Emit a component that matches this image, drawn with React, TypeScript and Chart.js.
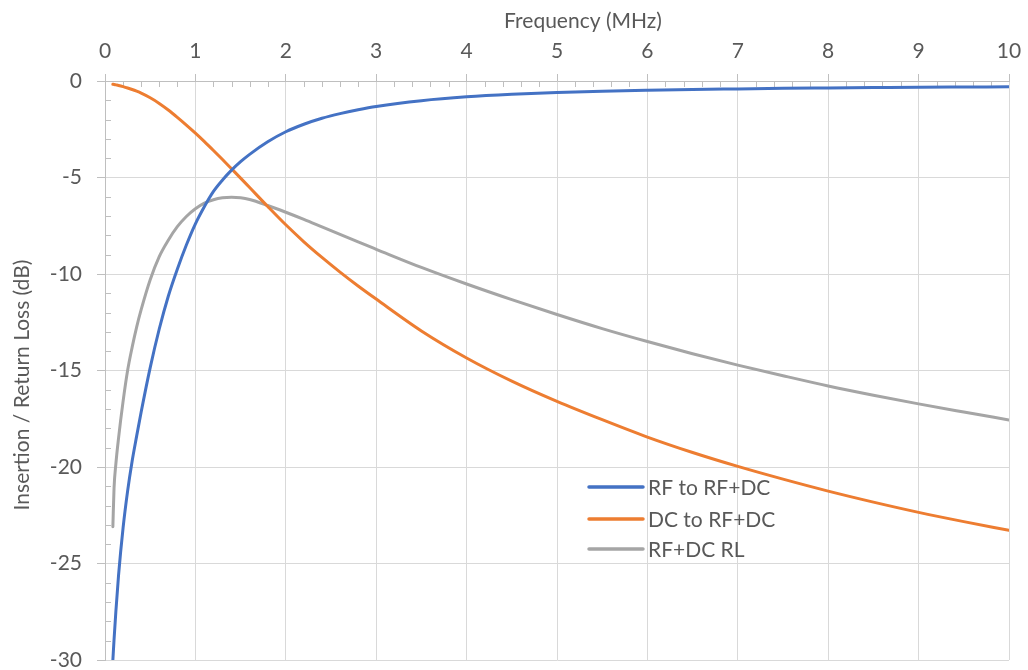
import React, { useEffect, useRef } from "react";
import { Chart, registerables } from "chart.js";

Chart.register(...registerables);

// ---- data ----
const FREQ_MHZ = [
  0.087, 0.1, 0.12, 0.15, 0.2, 0.25, 0.3, 0.35, 0.4, 0.5, 0.6, 0.7, 0.8, 0.9,
  1.0, 1.1, 1.2, 1.3, 1.4, 1.5, 1.6, 1.8, 2.0, 2.2, 2.4, 2.6, 2.8, 3.0, 3.5,
  4, 4.5, 5, 5.5, 6, 6.5, 7, 7.5, 8, 8.5, 9, 9.5, 10,
];

const RF_TO_RFDC = [
  -30, -28.95, -27.5, -25.6, -23.15, -21.25, -19.7, -18.4, -17.15, -14.85,
  -12.85, -11.15, -9.75, -8.5, -7.4, -6.5, -5.72, -5.13, -4.62, -4.18, -3.8,
  -3.15, -2.63, -2.24, -1.93, -1.69, -1.49, -1.32, -1.02, -0.82, -0.69, -0.6,
  -0.53, -0.48, -0.44, -0.41, -0.38, -0.36, -0.34, -0.32, -0.31, -0.3,
];

const DC_TO_RFDC = [
  -0.17, -0.18, -0.2, -0.23, -0.29, -0.36, -0.44, -0.53, -0.63, -0.87, -1.16,
  -1.5, -1.88, -2.28, -2.7, -3.14, -3.6, -4.07, -4.55, -5.03, -5.52, -6.5,
  -7.45, -8.33, -9.14, -9.9, -10.62, -11.3, -12.95, -14.35, -15.55, -16.6,
  -17.55, -18.45, -19.25, -19.97, -20.63, -21.25, -21.82, -22.35, -22.83,
  -23.28,
];

const RFDC_RL = [
  -23.1, -21.1, -19.85, -18.5, -16.6, -15.0, -13.8, -12.75, -11.85, -10.3,
  -9.1, -8.25, -7.55, -7.02, -6.62, -6.33, -6.15, -6.05, -6.02, -6.05, -6.14,
  -6.45, -6.8, -7.17, -7.56, -7.95, -8.34, -8.72, -9.66, -10.52, -11.33,
  -12.1, -12.83, -13.5, -14.13, -14.72, -15.27, -15.8, -16.28, -16.73, -17.15,
  -17.56,
];

const SERIES_NAMES = ["RF to RF+DC", "DC to RF+DC", "RF+DC RL"];
const SERIES_COLORS = ["#4472C4", "#ED7D31", "#A5A5A5"];
const SERIES_VALUES = [RF_TO_RFDC, DC_TO_RFDC, RFDC_RL];

const X_TITLE = "Frequency (MHz)";
const Y_TITLE = "Insertion / Return Loss (dB)";
const X_MIN = 0;
const X_MAX = 10;
const X_STEP = 1;
const X_MINOR_STEP = 0.2;
const Y_MIN = -30;
const Y_MAX = 0;
const Y_STEP = 5;
const Y_MINOR_STEP = 1;

// ---- styles ----
const FONT_FAMILY = "Lato, 'Open Sans', sans-serif";
const TEXT_COLOR = "#595959";
const GRID_COLOR = "#D9D9D9";
const AXIS_COLOR = "#BFBFBF";

const decorPlugin = {
  id: "decor",
  beforeDatasetsDraw(chart: any) {
    const { ctx, scales } = chart;
    const x = scales.x;
    const y = scales.y;
    ctx.save();
    ctx.strokeStyle = AXIS_COLOR;
    ctx.lineWidth = 1;
    ctx.beginPath();
    const nx = Math.round((X_MAX - X_MIN) / X_MINOR_STEP);
    for (let i = 1; i < nx; i++) {
      const v = X_MIN + i * X_MINOR_STEP;
      if (Math.abs(v / X_STEP - Math.round(v / X_STEP)) < 1e-6) continue;
      const px = Math.round(x.getPixelForValue(v)) + 0.5;
      ctx.moveTo(px, y.top);
      ctx.lineTo(px, y.top + 6);
    }
    const ny = Math.round((Y_MAX - Y_MIN) / Y_MINOR_STEP);
    for (let i = 1; i < ny; i++) {
      const v = Y_MIN + i * Y_MINOR_STEP;
      if (Math.abs(v / Y_STEP - Math.round(v / Y_STEP)) < 1e-6) continue;
      const py = Math.round(y.getPixelForValue(v)) + 0.5;
      ctx.moveTo(x.left, py);
      ctx.lineTo(x.left + 6, py);
    }
    ctx.stroke();
    ctx.restore();
  },
  afterDraw(chart: any) {
    const { ctx } = chart;
    ctx.save();
    ctx.fillStyle = TEXT_COLOR;
    // axis titles
    ctx.font = `21px ${FONT_FAMILY}`;
    ctx.textAlign = "center";
    ctx.textBaseline = "alphabetic";
    ctx.fillText(X_TITLE, 583, 28);
    ctx.save();
    ctx.translate(29, 385);
    ctx.rotate(-Math.PI / 2);
    ctx.fillText(Y_TITLE, 0, 0);
    ctx.restore();
    // legend
    const lx0 = 589;
    const lx1 = 643;
    const rows = [487, 519, 549];
    ctx.textAlign = "left";
    ctx.textBaseline = "middle";
    SERIES_NAMES.forEach((name, i) => {
      ctx.strokeStyle = SERIES_COLORS[i];
      ctx.lineWidth = 3.5;
      ctx.lineCap = "round";
      ctx.beginPath();
      ctx.moveTo(lx0, rows[i]);
      ctx.lineTo(lx1, rows[i]);
      ctx.stroke();
      ctx.fillStyle = TEXT_COLOR;
      ctx.fillText(name, 648, rows[i] + 1);
    });
    ctx.restore();
  },
};

export default function App() {
  const ref = useRef<HTMLCanvasElement>(null);

  useEffect(() => {
    if (!ref.current) return;
    const datasets = SERIES_NAMES.map((name, i) => ({
      label: name,
      data: FREQ_MHZ.map((f, j) => ({ x: f, y: SERIES_VALUES[i][j] })),
      borderColor: SERIES_COLORS[i],
      backgroundColor: SERIES_COLORS[i],
      borderWidth: 3,
      borderCapStyle: "round" as const,
      pointRadius: 0,
      cubicInterpolationMode: "monotone" as const,
      fill: false,
    }));

    const chart = new Chart(ref.current, {
      type: "line",
      data: { datasets },
      options: {
        animation: false,
        responsive: false,
        devicePixelRatio: 1,
        layout: { padding: { left: 0, top: 0, right: 19, bottom: 10 } },
        plugins: {
          legend: { display: false },
          tooltip: { enabled: false },
        },
        scales: {
          x: {
            type: "linear",
            position: "top",
            min: X_MIN,
            max: X_MAX,
            ticks: {
              stepSize: X_STEP,
              color: TEXT_COLOR,
              font: { family: FONT_FAMILY, size: 21 },
              padding: 10,
              maxRotation: 0,
            },
            grid: {
              color: GRID_COLOR,
              tickColor: AXIS_COLOR,
              tickLength: 7,
              lineWidth: 1,
            },
            border: { color: AXIS_COLOR, width: 1 },
            afterFit(scale: any) {
              scale.height = 81;
              scale.paddingLeft = 0;
              scale.paddingRight = 0;
            },
          },
          y: {
            type: "linear",
            min: Y_MIN,
            max: Y_MAX,
            ticks: {
              stepSize: Y_STEP,
              color: TEXT_COLOR,
              font: { family: FONT_FAMILY, size: 21 },
              padding: 15,
            },
            grid: {
              color: GRID_COLOR,
              tickColor: AXIS_COLOR,
              tickLength: 8,
              lineWidth: 1,
            },
            border: { color: AXIS_COLOR, width: 1 },
            afterFit(scale: any) {
              scale.width = 105;
              scale.paddingTop = 0;
              scale.paddingBottom = 0;
            },
          },
        },
      },
      plugins: [decorPlugin],
    });
    return () => chart.destroy();
  }, []);

  return (
    <div
      style={{
        position: "absolute",
        left: 0,
        top: 0,
        width: 1028,
        height: 670,
        background: "#ffffff",
      }}
    >
      <canvas
        ref={ref}
        width={1028}
        height={670}
        style={{ width: 1028, height: 670, display: "block" }}
      />
    </div>
  );
}
